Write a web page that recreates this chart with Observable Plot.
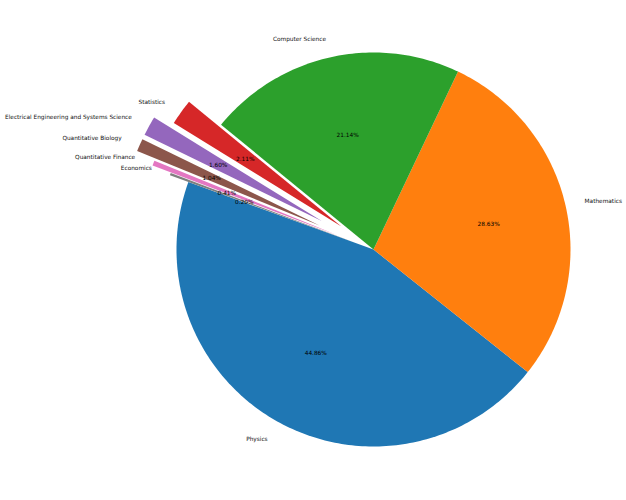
<!DOCTYPE html>
<html>
<head>
<meta charset="utf-8">
<script src="https://cdn.jsdelivr.net/npm/d3@7"></script>
<script src="https://cdn.jsdelivr.net/npm/@observablehq/plot@0.6"></script>
<style>
  html, body { margin: 0; padding: 0; background: #fff; }
  svg { display: block; }
</style>
</head>
<body>
<div id="chart"></div>
<script>
// Data
const categories = ["Physics", "Mathematics", "Computer Science", "Statistics",
  "Electrical Engineering and Systems Science", "Quantitative Biology",
  "Quantitative Finance", "Economics"];
const shares = [44.86, 28.63, 21.14, 2.11, 1.60, 1.04, 0.41, 0.20];
const explode = [0, 0, 0, 0.2, 0.3, 0.3, 0.2, 0.1];
const colors = ["#1f77b4", "#ff7f0e", "#2ca02c", "#d62728", "#9467bd", "#8c564b", "#e377c2", "#7f7f7f"];
const startAngle = 160; // degrees, counter-clockwise

// Build wedge polygons in unit space (radius 1)
const total = d3.sum(shares);
const wedgePts = [];
const labels = [];
const pcts = [];
let a0 = startAngle * Math.PI / 180;
shares.forEach((v, i) => {
  const span = v / total * 2 * Math.PI;
  const a1 = a0 + span;
  const am = (a0 + a1) / 2;
  const ox = explode[i] * Math.cos(am), oy = explode[i] * Math.sin(am);
  const n = Math.max(2, Math.ceil(span / (Math.PI / 180)));
  wedgePts.push({cat: categories[i], x: ox, y: oy});
  for (let k = 0; k <= n; k++) {
    const t = a0 + span * k / n;
    wedgePts.push({cat: categories[i], x: ox + Math.cos(t), y: oy + Math.sin(t)});
  }
  wedgePts.push({cat: categories[i], x: ox, y: oy});
  const lx = ox + 1.1 * Math.cos(am), ly = oy + 1.1 * Math.sin(am);
  labels.push({cat: categories[i], x: lx, y: ly, anchor: lx > 0 ? "start" : "end"});
  pcts.push({text: v.toFixed(2) + "%", x: ox + 0.6 * Math.cos(am), y: oy + 0.6 * Math.sin(am)});
  a0 = a1;
});

const W = 626, H = 500, cx = 373, cy = 249, R = 197;
const chart = Plot.plot({
  width: W, height: H,
  margin: 0,
  x: {domain: [-cx / R, (W - cx) / R], axis: null},
  y: {domain: [-(H - cy) / R, cy / R], axis: null},
  color: {domain: categories, range: colors},
  style: {fontFamily: "DejaVu Sans, sans-serif", background: "#fff"},
  marks: [
    Plot.line(wedgePts, {x: "x", y: "y", z: "cat", fill: "cat", stroke: "none", curve: "linear"}),
    Plot.text(labels.filter(d => d.anchor === "end"), {x: "x", y: "y", dy: 1, text: "cat", textAnchor: "end", fontSize: 5.8, fill: "#111"}),
    Plot.text(labels.filter(d => d.anchor === "start"), {x: "x", y: "y", dy: 1, text: "cat", textAnchor: "start", fontSize: 5.8, fill: "#111"}),
    Plot.text(pcts, {x: "x", y: "y", dy: 1, text: "text", fontSize: 5.8, fill: "black"})
  ]
});
document.getElementById("chart").appendChild(chart);
</script>
</body>
</html>
